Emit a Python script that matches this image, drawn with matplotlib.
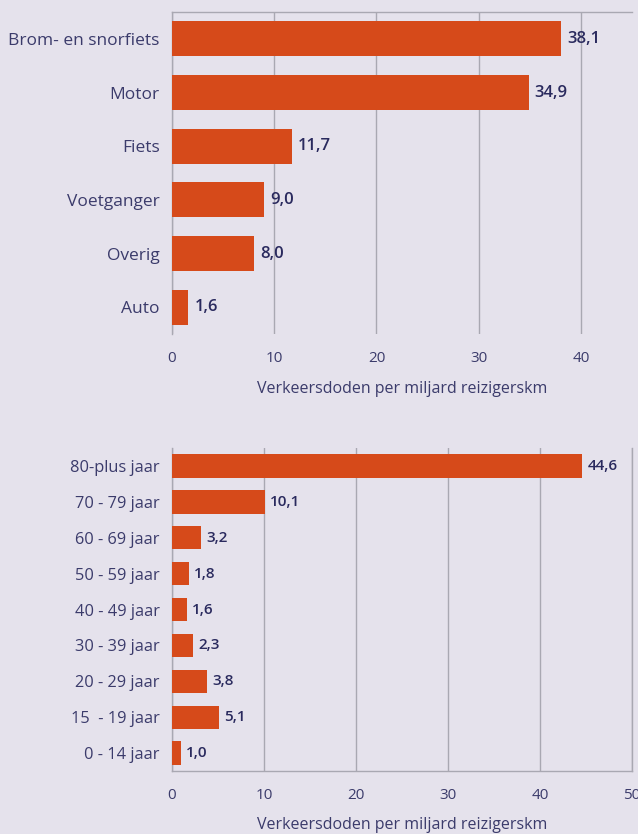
import matplotlib
matplotlib.use("Agg")
import matplotlib.pyplot as plt

# Data
modes = ["Brom- en snorfiets", "Motor", "Fiets", "Voetganger", "Overig", "Auto"]
mode_values = [38.1, 34.9, 11.7, 9.0, 8.0, 1.6]

ages = ["80-plus jaar", "70 - 79 jaar", "60 - 69 jaar", "50 - 59 jaar",
        "40 - 49 jaar", "30 - 39 jaar", "20 - 29 jaar", "15  - 19 jaar", "0 - 14 jaar"]
age_values = [44.6, 10.1, 3.2, 1.8, 1.6, 2.3, 3.8, 5.1, 1.0]

x_label = "Verkeersdoden per miljard reizigerskm"

bg = "#e5e2ec"
bar_color = "#d64a1a"
label_color = "#3b3b6b"
value_color = "#2a2a5e"
grid_color = "#a9a8b2"

plt.rcParams["font.family"] = ["Open Sans", "DejaVu Sans"]

fig = plt.figure(figsize=(6.38, 8.34), dpi=100, facecolor=bg)
ax1 = fig.add_axes([0.2696, 0.5995, 0.9906 - 0.2696, 0.9856 - 0.5995])
ax2 = fig.add_axes([0.2696, 0.0755, 0.9906 - 0.2696, 0.4628 - 0.0755])


def draw(ax, cats, vals, xmax, ticks, label_size, value_size, pad_px, lpad):
    ax.set_facecolor(bg)
    y = list(range(len(cats)))
    ax.barh(y, vals, height=0.65, color=bar_color, zorder=3)
    for yi, v in zip(y, vals):
        ax.annotate(f"{v:.1f}".replace(".", ","), (v, yi), xytext=(pad_px, 0),
                    textcoords="offset pixels", va="center", ha="left",
                    fontsize=value_size, fontweight="semibold", color=value_color)
    ax.set_yticks(y)
    ax.set_yticklabels(cats, fontsize=label_size, color=label_color)
    ax.set_ylim(len(cats) - 0.5, -0.5)
    ax.set_xlim(0, xmax)
    ax.set_xticks(ticks)
    ax.set_xticklabels([str(t) for t in ticks], fontsize=11, color=label_color)
    ax.tick_params(length=0)
    ax.tick_params(axis="x", pad=12)
    ax.tick_params(axis="y", pad=9)
    ax.grid(axis="x", color=grid_color, linewidth=1, zorder=0)
    for s in ax.spines.values():
        s.set_color(grid_color)
        s.set_linewidth(1)
    ax.set_xlabel(x_label, fontsize=11.5, color=label_color, labelpad=lpad)


draw(ax1, modes, mode_values, 45, [0, 10, 20, 30, 40], 12.5, 12, 6, 11)
ax1.spines["right"].set_visible(False)
ax1.spines["bottom"].set_visible(False)

draw(ax2, ages, age_values, 50, [0, 10, 20, 30, 40, 50], 11.8, 11, 5, 10)
ax2.spines["top"].set_visible(False)

fig.savefig("out.png", dpi=100, facecolor=bg)
